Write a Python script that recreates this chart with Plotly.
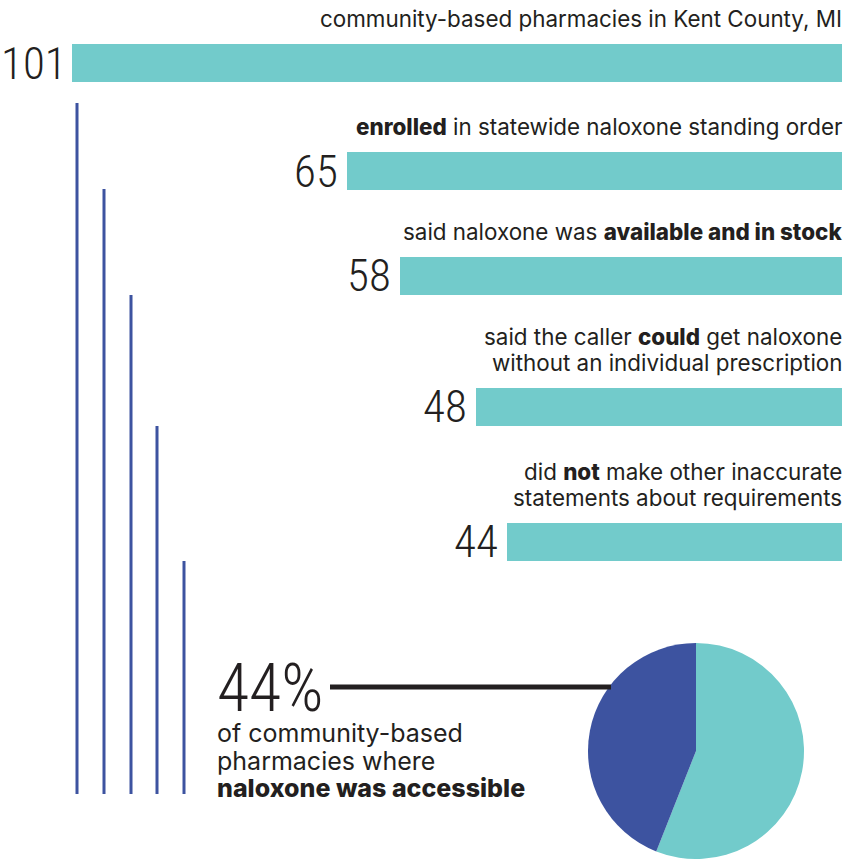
import math
import plotly.graph_objects as go

# ---- data ----
bar_values = [101, 65, 58, 48, 44]
B = '<span style="font-weight:800">{}</span>'
bar_labels = [
    ["community-based pharmacies in Kent County, MI"],
    [B.format("enrolled") + " in statewide naloxone standing order"],
    ["said naloxone was " + B.format("available and in stock")],
    ["said the caller " + B.format("could") + " get naloxone", "without an individual prescription"],
    ["did " + B.format("not") + " make other inaccurate", "statements about requirements"],
]
pie_labels = ["naloxone was not accessible", "naloxone was accessible"]
pie_values = [56, 44]
headline = "44%"
headline_lines = ["of community-based", "pharmacies where", B.format("naloxone was accessible")]

# ---- layout constants (pixels) ----
W, H = 861, 859
TEAL = "#72CBCB"
BLUE = "#3D53A0"
INK = "#231F20"
PX_PER_UNIT = 7.62
RIGHT_EDGE = 842
bar_centers = [63, 171, 275.5, 406.5, 541.5]
bar_thickness = 38
num_xshift = [-3, -7, -7, -7, -7]
line_x = [77, 104, 131, 157, 184]
line_tops = [103, 189, 295, 426, 561]
line_bottom = 794
num_font = "Roboto Condensed, DejaVu Sans Condensed, Liberation Sans Narrow, Roboto"
txt_font = "Inter"
LABEL_SIZE = 22.4
LABEL_PITCH = 25.5
BODY_SIZE = 25

fig = go.Figure()
fig.add_trace(go.Bar(
    x=bar_values, y=bar_centers, orientation="h", width=bar_thickness,
    marker=dict(color=TEAL, line=dict(width=0)), hoverinfo="skip",
    showlegend=False,
))

pcx, pr = 696, 108
fig.add_trace(go.Pie(
    labels=pie_labels, values=pie_values, sort=False, direction="clockwise",
    rotation=0, marker=dict(colors=[TEAL, BLUE], line=dict(width=0)),
    textinfo="none", hoverinfo="skip", showlegend=False,
    domain=dict(x=[(pcx - pr) / W, (pcx + pr) / W], y=[0, (2 * pr) / H]),
))


def baseline_to_mid(baseline, size):
    return baseline - 0.36 * size


numfont = dict(family=num_font, size=45, color=INK, weight=300)
ann = []
for v, lines, yc, xs in zip(bar_values, bar_labels, bar_centers, num_xshift):
    ann.append(dict(x=v, y=yc, xref="x", yref="y", text=str(v), showarrow=False,
                    xanchor="right", yanchor="middle", xshift=xs, font=numfont))
    last_base = yc - bar_thickness / 2 - 17
    n = len(lines)
    for i, ln in enumerate(lines):
        base = last_base - (n - 1 - i) * LABEL_PITCH
        ann.append(dict(x=0, y=baseline_to_mid(base, LABEL_SIZE), xref="x", yref="y",
                        text=ln, showarrow=False, xanchor="right", yanchor="middle",
                        xshift=2, font=dict(family=txt_font, size=LABEL_SIZE, color=INK)))

ann.append(dict(x=215, y=712 - 0.36 * 66, xref="x2", yref="y", text=headline,
                showarrow=False, xanchor="left", yanchor="middle",
                font=dict(family=num_font, size=66, color=INK, weight=300)))
for ln, base in zip(headline_lines, [742, 769.5, 797]):
    ann.append(dict(x=215, y=baseline_to_mid(base, BODY_SIZE), xref="x2", yref="y",
                    text=ln, showarrow=False, xanchor="left", yanchor="middle",
                    font=dict(family=txt_font, size=BODY_SIZE, color=INK)))

shapes = []
for x, t in zip(line_x, line_tops):
    shapes.append(dict(type="line", xref="paper", yref="paper",
                       x0=x / W, x1=x / W, y0=1 - t / H, y1=1 - line_bottom / H,
                       line=dict(color=BLUE, width=3)))
pcy = H - pr
ly = 687
lx_end = pcx - math.sqrt(pr ** 2 - (pcy - ly) ** 2) + 2
shapes.append(dict(type="line", xref="paper", yref="paper",
                   x0=330 / W, x1=lx_end / W, y0=1 - ly / H, y1=1 - ly / H,
                   line=dict(color=INK, width=5)))

fig.update_layout(
    width=W, height=H, margin=dict(l=0, r=0, t=0, b=0),
    paper_bgcolor="white", plot_bgcolor="white",
    xaxis=dict(range=[RIGHT_EDGE / PX_PER_UNIT, (RIGHT_EDGE - W) / PX_PER_UNIT],
               visible=False, fixedrange=True),
    xaxis2=dict(range=[0, W], visible=False, fixedrange=True, overlaying="x"),
    yaxis=dict(range=[H, 0], visible=False, fixedrange=True),
    annotations=ann, shapes=shapes, bargap=0,
)

fig.write_html("out.html", config={"displayModeBar": False},
               post_script="document.body.style.margin='0';document.body.style.overflow='hidden';")
